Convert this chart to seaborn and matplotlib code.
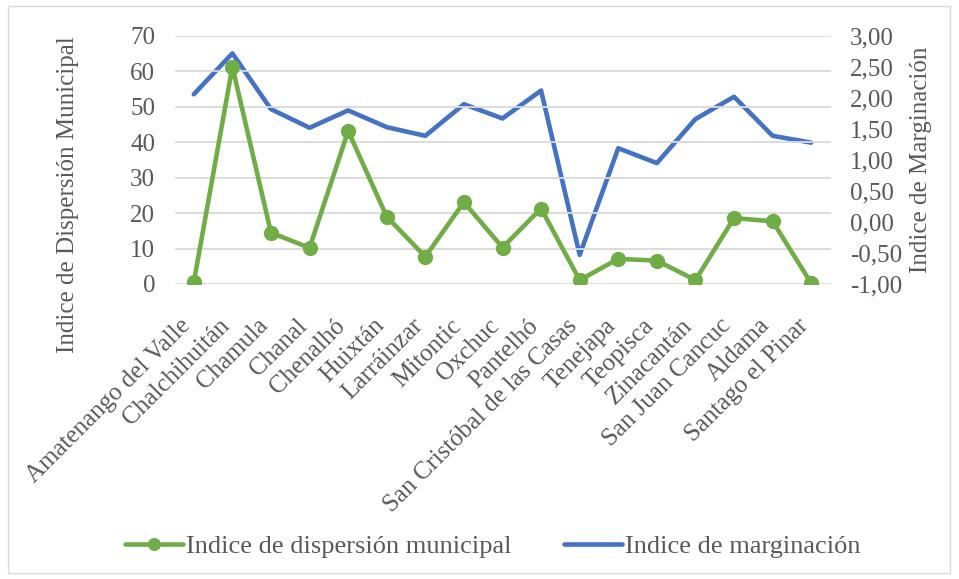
import numpy as np
import pandas as pd
import seaborn as sns
import matplotlib.pyplot as plt
from matplotlib.ticker import FuncFormatter, MultipleLocator
from matplotlib.patches import Rectangle
from matplotlib.transforms import ScaledTranslation

municipios = ['Amatenango del Valle', 'Chalchihuitán', 'Chamula', 'Chanal', 'Chenalhó',
              'Huixtán', 'Larráinzar', 'Mitontic', 'Oxchuc', 'Pantelhó',
              'San Cristóbal de las Casas', 'Tenejapa', 'Teopisca', 'Zinacantán',
              'San Juan Cancuc', 'Aldama', 'Santago el Pinar']
dispersion = [0.5, 61.3, 14.5, 10.2, 43.2, 19.0, 7.7, 23.1, 10.3, 21.3,
              1.1, 7.1, 6.6, 1.1, 18.6, 17.7, 0.2]
marginacion = [2.06, 2.72, 1.82, 1.52, 1.80, 1.53, 1.39, 1.90, 1.67, 2.12,
               -0.53, 1.19, 0.95, 1.66, 2.02, 1.39, 1.28]

df = pd.DataFrame({'pos': np.arange(len(municipios)), 'Municipio': municipios,
                   'Dispersion': dispersion, 'Marginacion': marginacion})

sns.set_style('white')
plt.rcParams['font.family'] = ['Liberation Serif', 'DejaVu Serif']
txt = '#595959'
green = '#70AD47'
blue = '#4472C4'
fs = 18

fig = plt.figure(figsize=(9.59, 5.79), dpi=100)
ax = fig.add_axes([174.5 / 959, 1 - 284 / 579, (830.5 - 174.5) / 959, (284 - 36) / 579])
ax2 = ax.twinx()

sns.lineplot(data=df, x='pos', y='Marginacion', ax=ax2, color=blue, linewidth=3.3,
             label='Indice de marginación', legend=False)
sns.lineplot(data=df, x='pos', y='Dispersion', ax=ax, color=green, linewidth=3.3,
             marker='o', markersize=11, markeredgewidth=0,
             label='Indice de dispersión municipal', legend=False)

# green line drawn above the blue one
ax.set_zorder(ax2.get_zorder() + 1)
ax.patch.set_visible(False)

ax.set_xlim(-0.5, len(municipios) - 0.5)
ax.set_ylim(0, 70)
ax2.set_ylim(-1, 3)
ax.yaxis.set_major_locator(MultipleLocator(10))
ax2.yaxis.set_major_locator(MultipleLocator(0.5))
ax2.yaxis.set_major_formatter(FuncFormatter(lambda v, p: f'{v:.2f}'.replace('.', ',')))

ax.grid(axis='y', color='#D9D9D9', linewidth=1.3)
ax.grid(axis='x', visible=False)
ax2.grid(False)
for a in (ax, ax2):
    for s in a.spines.values():
        s.set_visible(False)
    a.tick_params(length=0, labelsize=fs, colors=txt)

ax.set_xticks(df['pos'])
ax.set_xticklabels(municipios, rotation=45, ha='right', rotation_mode='anchor')
ax.tick_params(axis='x', pad=22)
for lbl in ax.get_xticklabels():
    lbl.set_transform(lbl.get_transform() + ScaledTranslation(-14 / 100, 0, fig.dpi_scale_trans))
ax.tick_params(axis='y', pad=14)
ax2.tick_params(axis='y', pad=14)

ax.set_xlabel('')
ax.set_ylabel('Indice de Dispersión Municipal', fontsize=fs, color=txt)
ax2.set_ylabel('Indice de Marginación', fontsize=fs, color=txt, rotation=90)
ax.yaxis.set_label_coords(-0.146, 0.36)
ax2.yaxis.set_label_coords(1.121, 0.5)

h1, l1 = ax.get_legend_handles_labels()
h2, l2 = ax2.get_legend_handles_labels()
fig.legend(h1 + h2, l1 + l2, loc='center', bbox_to_anchor=(493 / 959, 1 - 546 / 579), ncol=2,
           frameon=False, fontsize=19, labelcolor=txt, handlelength=2.2,
           handletextpad=0.1, columnspacing=2.0, markerscale=0.85)

fig.patches.append(Rectangle((8 / 959, 6 / 579), 942 / 959, 567 / 579,
                             transform=fig.transFigure, fill=False,
                             edgecolor='#D9D9D9', linewidth=1))

fig.savefig('out.png', dpi=100)
